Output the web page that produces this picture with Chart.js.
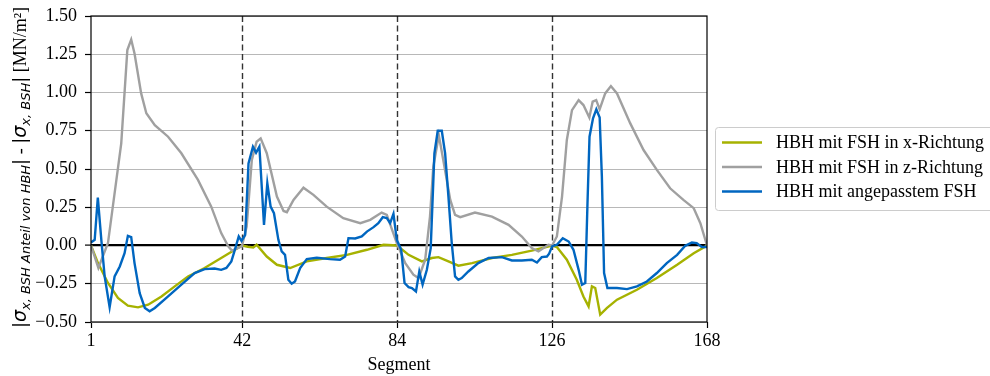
<!DOCTYPE html>
<html>
<head>
<meta charset="utf-8">
<script src="https://cdn.jsdelivr.net/npm/chart.js@4.4.1/dist/chart.umd.min.js"></script>
<style>
  html, body { margin: 0; padding: 0; background: #ffffff; }
  #wrap { width: 990px; height: 376px; }
</style>
</head>
<body>
<div id="wrap"><canvas id="c" width="990" height="376"></canvas></div>
<script>
// ---- Data ----
const seriesLabels = ['HBH mit FSH in x-Richtung', 'HBH mit FSH in z-Richtung', 'HBH mit angepasstem FSH'];
const seriesColors = ['#a6b200', '#a0a0a0', '#0066c0'];

const segX_xRichtung = [1, 2.9, 5.6, 8.3, 11, 13.75, 16.5, 20.1, 23.7, 27.3, 31.8, 36.3, 40, 42, 43.5, 45, 45.9, 48.65, 51.4, 55, 59.5, 64.9, 70.4, 75.8, 80.3, 84, 87.1, 90.7, 93.4, 95.2, 97.9, 100.6, 104.3, 109.7, 115.1, 120.5, 126, 127.3, 130, 132.7, 134.5, 135.9, 136.8, 137.7, 139.05, 140.9, 143.6, 149, 154.4, 159.9, 164.4, 168];
const val_xRichtung = [0, -0.115, -0.245, -0.343, -0.393, -0.404, -0.387, -0.333, -0.267, -0.202, -0.147, -0.082, -0.028, 0, -0.008, -0.013, 0.005, -0.072, -0.126, -0.147, -0.104, -0.082, -0.061, -0.028, 0.005, 0, -0.061, -0.104, -0.082, -0.076, -0.104, -0.132, -0.115, -0.082, -0.061, -0.033, 0, -0.01, -0.093, -0.224, -0.333, -0.398, -0.267, -0.278, -0.452, -0.408, -0.354, -0.289, -0.213, -0.126, -0.05, 0];

const segX_zRichtung = [1, 3, 5.6, 9.2, 10.85, 11.9, 12.8, 14.6, 16, 18.3, 21.9, 25.5, 30, 33.6, 36.3, 38.2, 39.2, 41.9, 43.2, 44.6, 45.9, 47, 48.65, 51.4, 53.2, 54.1, 55.9, 58.6, 61.3, 64.9, 69.4, 74, 76.7, 79.8, 81.2, 83.9, 86.2, 88.4, 89.8, 91.6, 92.9, 93.8, 95.3, 96.5, 98.4, 99.7, 101.1, 105.1, 109.7, 114.2, 117.8, 120.5, 122.3, 125, 126, 127.3, 128.7, 130, 131.4, 133.2, 134.5, 136.1, 137, 137.96, 138.9, 140.4, 141.95, 143.6, 147.2, 150.8, 154.4, 158, 161.6, 164.4, 166.2, 168];
const val_zRichtung = [0, -0.147, 0.016, 0.668, 1.277, 1.346, 1.255, 0.994, 0.864, 0.787, 0.711, 0.603, 0.429, 0.254, 0.081, -0.006, -0.033, -0.006, 0.124, 0.559, 0.678, 0.70, 0.603, 0.32, 0.226, 0.218, 0.298, 0.378, 0.331, 0.254, 0.179, 0.146, 0.168, 0.215, 0.2, 0.016, -0.115, -0.191, -0.213, -0.093, 0.189, 0.515, 0.72, 0.559, 0.298, 0.2, 0.185, 0.215, 0.189, 0.135, 0.059, -0.017, -0.039, 0.005, 0, 0.059, 0.32, 0.69, 0.885, 0.95, 0.918, 0.837, 0.94, 0.95, 0.89, 0.994, 1.042, 0.994, 0.798, 0.624, 0.494, 0.374, 0.298, 0.244, 0.146, 0];

const segX_angepasst = [1, 2, 2.85, 3.8, 4.7, 6.05, 7.4, 8.8, 10.1, 11, 11.9, 12.8, 14.2, 15.6, 16.9, 18.3, 21.9, 25.5, 29.1, 31.8, 34.5, 36.3, 37.7, 39.05, 40, 41.05, 41.8, 42.8, 43.7, 44.9, 45.75, 46.65, 47.9, 48.8, 49.7, 50.6, 51.8, 52.7, 53.6, 54.5, 55.4, 56.3, 57.7, 59.5, 62.2, 65.8, 68.5, 69.9, 70.8, 72.6, 74.4, 75.8, 77.6, 78.9, 80.1, 81.2, 82.1, 83, 83.9, 85.1, 86, 87.1, 88, 89.1, 90, 90.9, 92.05, 93.1, 94.1, 95, 96.1, 97, 97.9, 98.8, 99.7, 100.6, 101.5, 103.3, 106, 108.8, 112.4, 115.1, 117.8, 120.5, 121.9, 123.2, 124.6, 125.2, 126, 127.3, 128.9, 130.5, 131.8, 133.2, 134.1, 135, 135.6, 136.15, 137.1, 138, 138.9, 139.5, 140.1, 141, 143.6, 146.3, 149, 151.7, 154.4, 157.1, 159.9, 162.1, 163.9, 165.2, 166.6, 168];
const val_angepasst = [0.02, 0.037, 0.313, 0.037, -0.202, -0.404, -0.202, -0.137, -0.05, 0.063, 0.055, -0.115, -0.311, -0.408, -0.43, -0.408, -0.333, -0.256, -0.18, -0.154, -0.15, -0.159, -0.147, -0.104, -0.028, 0.059, 0.03, 0.07, 0.537, 0.646, 0.607, 0.646, 0.135, 0.407, 0.254, 0.211, 0.037, -0.039, -0.061, -0.224, -0.25, -0.235, -0.147, -0.089, -0.08, -0.089, -0.093, -0.072, 0.048, 0.046, 0.059, 0.091, 0.12, 0.146, 0.185, 0.179, 0.146, 0.207, 0.037, -0.028, -0.245, -0.272, -0.278, -0.3, -0.17, -0.256, -0.159, -0.017, 0.603, 0.75, 0.75, 0.603, 0.32, 0.016, -0.202, -0.224, -0.213, -0.17, -0.115, -0.082, -0.076, -0.098, -0.098, -0.093, -0.111, -0.076, -0.072, -0.054, -0.006, 0.005, 0.048, 0.026, -0.028, -0.159, -0.256, -0.245, 0.277, 0.711, 0.831, 0.89, 0.837, 0.45, -0.18, -0.278, -0.278, -0.285, -0.267, -0.235, -0.18, -0.115, -0.061, -0.002, 0.02, 0.016, -0.01, -0.01];

const xTickValues = [1, 42, 84, 126, 168];
const dashedSegments = [42, 84, 126];
const xAxisTitle = 'Segment';
const yMin = -0.5, yMax = 1.5, yStep = 0.25;

// ---- Build datasets ----
function pairs(xs, ys) { return xs.map((x, i) => ({ x: x, y: ys[i] })); }
const seriesData = [
  pairs(segX_xRichtung, val_xRichtung),
  pairs(segX_zRichtung, val_zRichtung),
  pairs(segX_angepasst, val_angepasst)
];
const drawOrder = [2, 1, 0];

const SERIF = '"Liberation Serif", "Times New Roman", serif';
const MATH = '"DejaVu Sans", sans-serif';
const FS = 18;

const decorPlugin = {
  id: 'decor',
  beforeDatasetsDraw(chart) {
    const ctx = chart.ctx, a = chart.chartArea, xs = chart.scales.x;
    ctx.save();
    ctx.strokeStyle = '#333333';
    ctx.lineWidth = 1.4;
    ctx.setLineDash([6, 3.5]);
    dashedSegments.forEach(v => {
      const px = Math.round(xs.getPixelForValue(v)) + 0.5;
      ctx.beginPath();
      ctx.moveTo(px, a.top);
      ctx.lineTo(px, a.bottom);
      ctx.stroke();
    });
    ctx.restore();
  },
  afterDraw(chart) {
    const ctx = chart.ctx, a = chart.chartArea;
    ctx.save();
    // frame
    ctx.strokeStyle = '#000000';
    ctx.lineWidth = 1.2;
    ctx.strokeRect(a.left, a.top, a.right - a.left, a.bottom - a.top);

    // x title
    ctx.fillStyle = '#000';
    ctx.font = FS + 'px ' + SERIF;
    ctx.textAlign = 'center';
    ctx.textBaseline = 'alphabetic';
    ctx.fillText(xAxisTitle, (a.left + a.right) / 2, 370);

    // y title (rotated, with subscripts)
    const segs = [
      { t: '|', f: '18px ' + MATH, dy: 0 },
      { t: 'σ', f: 'italic 19px ' + MATH, dy: 0 },
      { t: 'x, BSH Anteil von HBH', f: 'italic 13px ' + MATH, dy: 3.5 },
      { t: '|', f: '18px ' + MATH, dy: 0 },
      { t: ' - ', f: FS + 'px ' + SERIF, dy: 0 },
      { t: '|', f: '18px ' + MATH, dy: 0 },
      { t: 'σ', f: 'italic 19px ' + MATH, dy: 0 },
      { t: 'x, BSH', f: 'italic 13px ' + MATH, dy: 3.5 },
      { t: '|', f: '18px ' + MATH, dy: 0 },
      { t: ' [MN/m²]', f: FS + 'px ' + SERIF, dy: 0 }
    ];
    let total = 0;
    segs.forEach(s => { ctx.font = s.f; s.w = ctx.measureText(s.t).width; total += s.w; });
    ctx.translate(26, 167.5);
    ctx.rotate(-Math.PI / 2);
    ctx.textAlign = 'left';
    let cx = -total / 2;
    segs.forEach(s => { ctx.font = s.f; ctx.fillText(s.t, cx, s.dy); cx += s.w; });
    ctx.setTransform(1, 0, 0, 1, 0, 0);

    // legend
    const lx = 715.5, ly = 127.5, lw = 290, lh = 83;
    ctx.strokeStyle = '#cccccc';
    ctx.lineWidth = 1;
    ctx.fillStyle = 'rgba(255,255,255,0.85)';
    ctx.beginPath();
    if (ctx.roundRect) ctx.roundRect(lx, ly, lw, lh, 3); else ctx.rect(lx, ly, lw, lh);
    ctx.fill();
    ctx.stroke();
    const rows = [142.5, 167, 191.5];
    ctx.font = FS + 'px ' + SERIF;
    ctx.textBaseline = 'middle';
    chart.data.datasets.forEach((ds, i) => {
      ctx.strokeStyle = ds.borderColor;
      ctx.lineWidth = 2.5;
      ctx.beginPath();
      ctx.moveTo(722, rows[i]);
      ctx.lineTo(762, rows[i]);
      ctx.stroke();
      ctx.fillStyle = '#000';
      ctx.fillText(ds.label, 776, rows[i] + 1);
    });
    ctx.restore();
  }
};

new Chart(document.getElementById('c'), {
  type: 'line',
  plugins: [decorPlugin],
  data: {
    datasets: seriesData.map((d, i) => ({
      label: seriesLabels[i],
      data: d,
      borderColor: seriesColors[i],
      backgroundColor: seriesColors[i],
      borderWidth: 2.4,
      pointRadius: 0,
      tension: 0,
      fill: false,
      order: drawOrder[i]
    }))
  },
  options: {
    responsive: false,
    devicePixelRatio: 1,
    animation: false,
    layout: { padding: { top: 16, right: 283, left: 0, bottom: 0 } },
    plugins: { legend: { display: false }, tooltip: { enabled: false } },
    scales: {
      x: {
        type: 'linear',
        min: 1, max: 168,
        afterBuildTicks: axis => { axis.ticks = xTickValues.map(v => ({ value: v })); },
        afterFit: s => { s.height = 54; s.paddingLeft = 0; s.paddingRight = 0; },
        grid: { drawOnChartArea: false, drawTicks: true, tickLength: 6, tickColor: '#000', tickWidth: 1.2, color: '#000' },
        border: { display: false },
        ticks: { color: '#000', font: { family: SERIF, size: FS }, padding: 2, maxRotation: 0, autoSkip: false,
                 callback: v => String(v) }
      },
      y: {
        min: yMin, max: yMax,
        afterFit: s => { s.width = 91; s.paddingTop = 0; s.paddingBottom = 0; },
        ticks: { stepSize: yStep, color: '#000', font: { family: SERIF, size: FS }, padding: 8,
                 callback: v => (v < 0 ? '\u2212' : '') + Math.abs(v).toFixed(2) },
        grid: {
          drawTicks: true, tickLength: 6, tickColor: '#000', tickWidth: 1.2,
          color: c => (c.tick && Math.abs(c.tick.value) < 1e-9) ? '#000000' : '#b8b8b8',
          lineWidth: c => (c.tick && Math.abs(c.tick.value) < 1e-9) ? 2.2 : 1
        },
        border: { display: false }
      }
    }
  }
});
</script>
</body>
</html>
